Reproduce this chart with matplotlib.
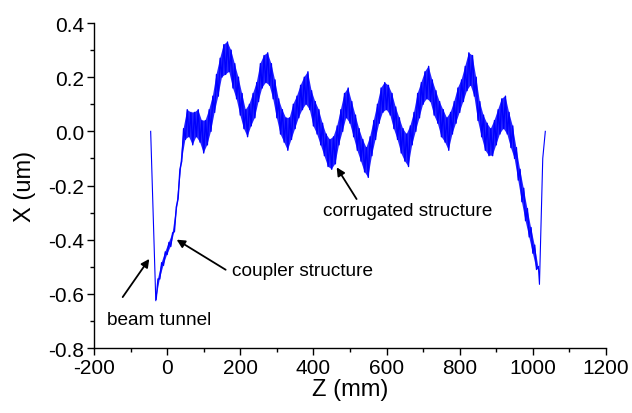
import numpy as np
import matplotlib
matplotlib.use("Agg")
import matplotlib.pyplot as plt
from matplotlib.ticker import MultipleLocator, FormatStrFormatter

plt.rcParams['font.family'] = ['Liberation Sans', 'DejaVu Sans']
plt.rcParams['axes.unicode_minus'] = False

# beam tunnel entrance (thin line)
z_in = [-45, -31]
x_in = [0.0, -0.625]

# noisy transverse offset sampled every 5 mm from -30 to 1015 mm
# (even samples: troughs of the fast ripple, odd samples: crests)
z_grid = np.arange(-30, 1016, 5)
x_vals = [
    -0.62, -0.545, -0.545, -0.485, -0.495, -0.445, -0.455, -0.41, -0.425, -0.375,
    -0.37, -0.28, -0.25, -0.14, -0.11, 0.01, -0.03, 0.08, -0.02, 0.07,
    -0.05, 0.07, -0.02, 0.08, -0.04, 0.04, -0.08, 0.04, -0.05, 0.08,
    0.0, 0.13, 0.07, 0.21, 0.13, 0.27, 0.20, 0.32, 0.21, 0.33,
    0.22, 0.30, 0.16, 0.25, 0.12, 0.20, 0.06, 0.14, 0.01, 0.08,
    -0.02, 0.10, 0.02, 0.14, 0.05, 0.18, 0.11, 0.25, 0.16, 0.28,
    0.18, 0.29, 0.17, 0.25, 0.12, 0.19, 0.05, 0.12, -0.01, 0.08,
    -0.04, 0.05, -0.07, 0.05, -0.03, 0.10, 0.01, 0.13, 0.05, 0.17,
    0.08, 0.20, 0.10, 0.22, 0.08, 0.15, 0.02, 0.11, -0.01, 0.08,
    -0.05, 0.03, -0.09, -0.01, -0.13, -0.03, -0.14, -0.02, -0.12, 0.02,
    -0.05, 0.08, 0.0, 0.14, 0.05, 0.16, 0.03, 0.11, -0.02, 0.06,
    -0.07, 0.01, -0.11, -0.03, -0.15, -0.06, -0.17, -0.02, -0.09, 0.04,
    -0.03, 0.10, 0.03, 0.16, 0.07, 0.18, 0.08, 0.17, 0.06, 0.14,
    0.01, 0.09, -0.03, 0.05, -0.08, 0.01, -0.11, -0.01, -0.13, 0.02,
    -0.05, 0.07, 0.0, 0.14, 0.05, 0.18, 0.10, 0.22, 0.12, 0.24,
    0.11, 0.19, 0.06, 0.15, 0.03, 0.11, -0.02, 0.08, -0.04, 0.05,
    -0.07, 0.07, -0.01, 0.11, 0.03, 0.16, 0.07, 0.19, 0.11, 0.24,
    0.15, 0.29, 0.17, 0.28, 0.13, 0.20, 0.04, 0.11, -0.02, 0.06,
    -0.07, 0.03, -0.09, 0.01, -0.09, 0.04, -0.05, 0.08, -0.01, 0.12,
    0.01, 0.13, -0.01, 0.07, -0.06, 0.02, -0.10, -0.06, -0.18, -0.14,
    -0.26, -0.21, -0.33, -0.285, -0.39, -0.355, -0.45, -0.42, -0.51, -0.50,
]

# beam tunnel exit (thin line)
z_out = [1015, 1018, 1027, 1034]
x_out = [-0.50, -0.565, -0.10, 0.0]

annotations = [
    ("beam tunnel", (-48.8, -0.471), (-121.5, -0.612), (-164, -0.693)),
    ("coupler structure", (26, -0.40), (160, -0.511), (177, -0.512)),
    ("corrugated structure", (463.6, -0.133), (518, -0.25), (426, -0.294)),
]

fig = plt.figure(figsize=(6.32, 4.14), dpi=100)
ax = fig.add_axes([0.1487, 0.157, 0.8102, 0.785])

blue = '#0000ff'
ax.plot(z_in, x_in, color=blue, lw=0.8)
# dense ripple band: area between crests and troughs, plus the ripple itself
crest_z = list(z_grid[1::2])
crest_x = x_vals[1::2]
trough_z = list(z_grid[0::2])
trough_x = x_vals[0::2]
ax.fill(crest_z + trough_z[::-1], crest_x + trough_x[::-1],
        color=blue, alpha=0.85, lw=0)
ax.plot(z_grid, x_vals, color=blue, lw=1.0)
ax.plot(z_out, x_out, color=blue, lw=0.8)

for label, head, tail, tpos in annotations:
    ax.annotate('', xy=head, xytext=tail,
                arrowprops=dict(arrowstyle='-|>', color='black', lw=1.3,
                                mutation_scale=12, shrinkA=0, shrinkB=0))
    ax.text(tpos[0], tpos[1], label, fontsize=13.7, ha='left', va='center')

ax.set_xlim(-200, 1200)
ax.set_ylim(-0.8, 0.4)
ax.xaxis.set_major_locator(MultipleLocator(200))
ax.xaxis.set_minor_locator(MultipleLocator(100))
ax.yaxis.set_major_locator(MultipleLocator(0.2))
ax.yaxis.set_minor_locator(MultipleLocator(0.1))
ax.yaxis.set_major_formatter(FormatStrFormatter('%.1f'))
ax.spines['top'].set_visible(False)
ax.spines['right'].set_visible(False)
for s in ('left', 'bottom'):
    ax.spines[s].set_linewidth(1.0)
ax.tick_params(which='major', direction='out', length=5, width=1.0, labelsize=15, pad=2)
ax.tick_params(which='minor', direction='out', length=3, width=1.0)
ax.set_xlabel('Z (mm)', fontsize=17, labelpad=1)
ax.set_ylabel('X (um)', fontsize=17, labelpad=9)

fig.savefig('out.png', dpi=100)
